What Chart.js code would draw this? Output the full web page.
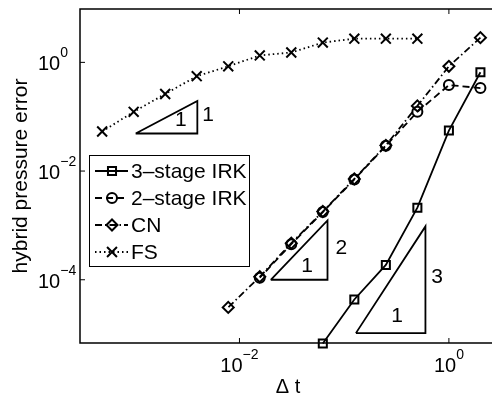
<!DOCTYPE html>
<html>
<head>
<meta charset="utf-8">
<script src="https://cdn.jsdelivr.net/npm/chart.js@4/dist/chart.umd.min.js"></script>
<style>
  html, body { margin: 0; padding: 0; background: #fff; }
  canvas { display: block; }
</style>
</head>
<body>
<canvas id="errorChart" width="501" height="396"></canvas>
<script>
// time steps and errors
const dtIRK3 = [2, 1, 0.5, 0.25, 0.125, 0.0625]
const errIRK3 = [0.658, 0.0556, 0.00212, 1.87e-4, 4.33e-5, 6.72e-6]
const dtIRK2 = [2, 1, 0.5, 0.25, 0.125, 0.0625, 0.03125, 0.015625]
const errIRK2 = [0.337, 0.382, 0.123, 0.0291, 0.0070, 0.00176, 4.52e-4, 1.09e-4]
const dtCN = [2, 1, 0.5, 0.25, 0.125, 0.0625, 0.03125, 0.015625, 0.0078125]
const errCN = [2.85, 0.846, 0.158, 0.0297, 0.00716, 0.0018, 4.71e-4, 1.135e-4, 3.1e-5]
const dtFS = [0.00048828125, 0.0009765625, 0.001953125, 0.00390625, 0.0078125,
  0.015625, 0.03125, 0.0625, 0.125, 0.25, 0.5]
const errFS = [0.0534, 0.123, 0.262, 0.556, 0.846, 1.34, 1.52, 2.31, 2.73, 2.73, 2.73]

const xTicks = [1e-2, 1e0]
const yTicks = [1e0, 1e-2, 1e-4]

// slope triangles: [x left, x right, y bottom, y top]
const slopeTriangles = [
  [1.02e-3, 3.96e-3, 0.0491, 0.195],
  [0.0199, 0.0693, 1e-4, 1.233e-3],
  [0.1294, 0.597, 1.042e-5, 9.59e-4]
]
// slope labels: [text, x, y]
const slopeLabels = [
  ['1', 2.75e-3, 0.0846], ['1', 5.02e-3, 0.1087],
  ['1', 0.0442, 1.8e-4], ['2', 0.0938, 3.82e-4],
  ['1', 0.32, 2.12e-5], ['3', 0.773, 1.135e-4]
]

const FONT = '"Liberation Sans", Arial, Helvetica, sans-serif'
const none = 'rgba(0,0,0,0)'

function points(xs, ys) {
  return xs.map((x, i) => ({ x: x, y: ys[i] }))
}

const series = [
  { label: '3\u2013stage IRK', data: points(dtIRK3, errIRK3), pointStyle: 'rect', pointRadius: 5.7, borderDash: [] },
  { label: '2\u2013stage IRK', data: points(dtIRK2, errIRK2), pointStyle: 'circle', pointRadius: 5, borderDash: [7, 4] },
  { label: 'CN', data: points(dtCN, errCN), pointStyle: 'rectRot', pointRadius: 5.5, borderDash: [7, 3, 1.5, 3] },
  { label: 'FS', data: points(dtFS, errFS), pointStyle: 'crossRot', pointRadius: 7, borderDash: [1.5, 3] }
]

const datasets = series.map(s => Object.assign({
  showLine: true,
  borderColor: '#000',
  backgroundColor: none,
  borderWidth: 1.8,
  pointBorderColor: '#000',
  pointBackgroundColor: none,
  pointBorderWidth: 2,
  clip: false
}, s))

slopeTriangles.forEach(t => {
  datasets.push({
    label: 'slope',
    showLine: true,
    data: [{ x: t[0], y: t[2] }, { x: t[1], y: t[2] }, { x: t[1], y: t[3] }, { x: t[0], y: t[2] }],
    borderColor: '#000',
    borderWidth: 1.8,
    pointRadius: 0,
    clip: false
  })
})

function line(ctx, x1, y1, x2, y2) {
  ctx.beginPath()
  ctx.moveTo(x1, y1)
  ctx.lineTo(x2, y2)
  ctx.stroke()
}

function powerLabel(ctx, v, x, y, align) {
  const exp = Math.round(Math.log10(v))
  const sup = String(exp).replace('-', '\u2212')
  ctx.font = '20px ' + FONT
  const w1 = ctx.measureText('10').width
  ctx.font = '14px ' + FONT
  const w2 = ctx.measureText(sup).width
  const x0 = align === 'center' ? x - (w1 + w2) / 2 : x
  ctx.textAlign = 'left'
  ctx.textBaseline = 'alphabetic'
  ctx.font = '20px ' + FONT
  ctx.fillText('10', x0, y)
  ctx.font = '14px ' + FONT
  ctx.fillText(sup, x0 + w1, y - 13)
}

const axesBox = {
  id: 'axesBox',
  beforeDatasetsDraw(chart) {
    const { ctx, chartArea: a, scales: { x, y } } = chart
    ctx.save()
    ctx.strokeStyle = '#000'
    ctx.lineWidth = 1.5
    ctx.beginPath()
    ctx.moveTo(a.right, a.top)
    ctx.lineTo(a.left, a.top)
    ctx.lineTo(a.left, a.bottom)
    ctx.lineTo(a.right, a.bottom)
    ctx.stroke()
    ctx.lineWidth = 1
    xTicks.forEach(v => {
      const px = x.getPixelForValue(v)
      line(ctx, px, a.bottom, px, a.bottom - 5)
      line(ctx, px, a.top, px, a.top + 5)
    })
    yTicks.forEach(v => {
      const py = y.getPixelForValue(v)
      line(ctx, a.left, py, a.left + 5, py)
    })
    ctx.restore()
  },
  afterDatasetsDraw(chart) {
    const { ctx, chartArea: a, scales: { x, y } } = chart
    ctx.save()
    ctx.fillStyle = '#000'
    // tick labels
    xTicks.forEach(v => powerLabel(ctx, v, x.getPixelForValue(v), a.bottom + 29, 'center'))
    yTicks.forEach(v => powerLabel(ctx, v, 38, y.getPixelForValue(v) + 8, 'left'))
    // axis titles
    ctx.font = '20px ' + FONT
    ctx.textAlign = 'center'
    ctx.textBaseline = 'alphabetic'
    ctx.fillText('\u0394 t', (a.left + a.right) / 2 + 2, a.bottom + 50)
    ctx.save()
    ctx.translate(27, (a.top + a.bottom) / 2)
    ctx.rotate(-Math.PI / 2)
    ctx.font = '21px ' + FONT
    ctx.fillText('hybrid pressure error', 0, 0)
    ctx.restore()
    // slope labels
    ctx.font = '21px ' + FONT
    ctx.textBaseline = 'middle'
    slopeLabels.forEach(l => ctx.fillText(l[0], x.getPixelForValue(l[1]), y.getPixelForValue(l[2])))
    // legend
    const lx = a.left + 9, ly = a.top + 146, lw = 160, lh = 111
    ctx.fillStyle = '#fff'
    ctx.fillRect(lx, ly, lw, lh)
    ctx.strokeStyle = '#000'
    ctx.lineWidth = 1
    ctx.strokeRect(lx + 0.5, ly + 0.5, lw, lh)
    series.forEach((s, i) => {
      const ry = ly + 16 + i * 27
      ctx.lineWidth = 1.8
      ctx.setLineDash(s.borderDash)
      line(ctx, lx + 6, ry, lx + 39, ry)
      ctx.setLineDash([])
      ctx.fillStyle = none
      ctx.lineWidth = 2
      Chart.helpers.drawPoint(ctx, { pointStyle: s.pointStyle, radius: s.pointRadius, rotation: 0, borderWidth: 2 }, lx + 23, ry)
      ctx.fillStyle = '#000'
      ctx.font = '21px ' + FONT
      ctx.textAlign = 'left'
      ctx.textBaseline = 'middle'
      ctx.fillText(s.label, lx + 42, ry + 1)
    })
    ctx.restore()
  }
}

new Chart(document.getElementById('errorChart'), {
  type: 'scatter',
  data: { datasets: datasets },
  options: {
    responsive: false,
    animation: false,
    events: [],
    layout: { padding: { top: 5, right: 0, left: 0, bottom: 0 } },
    plugins: { legend: { display: false }, tooltip: { enabled: false } },
    scales: {
      x: {
        type: 'logarithmic',
        min: 3.0e-4,
        max: 2.58,
        ticks: { display: false },
        grid: { display: false },
        border: { display: false },
        afterFit: s => { s.height = 53 }
      },
      y: {
        type: 'logarithmic',
        min: 6.86e-6,
        max: 9.59,
        ticks: { display: false },
        grid: { display: false },
        border: { display: false },
        afterFit: s => { s.width = 80 }
      }
    }
  },
  plugins: [axesBox]
})
</script>
</body>
</html>
